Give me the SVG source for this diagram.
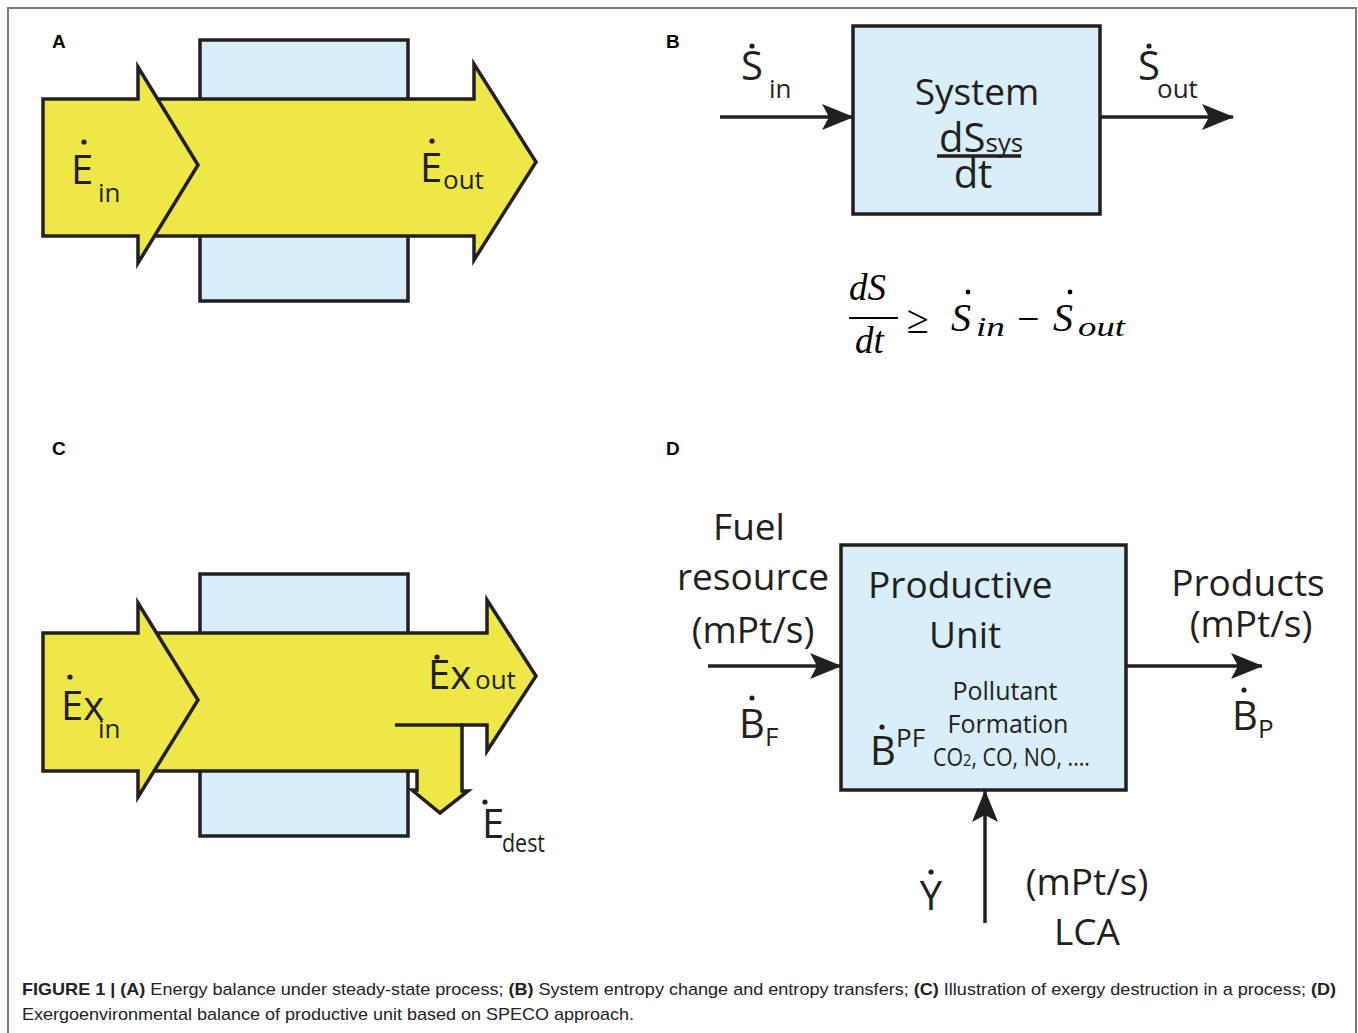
<svg xmlns="http://www.w3.org/2000/svg" width="1358" height="1033" viewBox="0 0 1358 1033">
<defs>
<style>
.bg{fill:#ffffff}
.frame{fill:none;stroke:#7a7a7a;stroke-width:2}
.box{fill:#d8eef8;stroke:#231f20;stroke-width:3.5}
.yel{fill:#ede847;stroke:#231f20;stroke-width:3.5;stroke-linejoin:miter}
.ln{fill:none;stroke:#231f20;stroke-width:3.5}
.conn{fill:none;stroke:#231f20;stroke-width:3.5}
.t{font-family:"Open Sans","Noto Sans",sans-serif;fill:#231f20}
.big{font-size:40px}
.mid{font-size:37px}
.sub{font-size:26px}
.sm{font-size:25px}
.lab{font-family:"Liberation Sans",Arial,sans-serif;font-weight:bold;font-size:19px;fill:#000}
.math{font-family:"Liberation Serif","Times New Roman",serif;font-style:italic;fill:#000}
.mathr{font-family:"Liberation Serif","Times New Roman",serif;fill:#000}
.cap{font-family:"Liberation Sans",Arial,sans-serif;font-size:17px;fill:#222}
.dot{fill:#231f20}
</style>
<marker id="ah" viewBox="0 0 32 28" refX="31" refY="14" markerWidth="32" markerHeight="28" orient="auto" markerUnits="userSpaceOnUse">
<path d="M0,1 L32,14 L0,27 L7,14 z" fill="#231f20"/>
</marker>
</defs>
<rect class="bg" x="0" y="0" width="1358" height="1033"/>
<path class="frame" d="M8,1040 V8 H1356 V1040"/>

<!-- Panel A -->
<g id="panelA">
<text class="lab" x="52" y="48">A</text>
<g id="A-system"><rect class="box" x="200" y="40" width="208" height="261"/></g>
<g id="A-Eout">
<polygon class="yel" points="150,99 474,99 474,64 536,162 474,260 474,236 150,236"/>
<circle class="dot" cx="432" cy="141" r="2.6"/>
<text class="t big" x="420" y="182">E</text>
<text class="t sub" x="443" y="189">out</text>
</g>
<g id="A-Ein">
<polygon class="yel" points="43,99 138,99 138,67 198,165 138,263 138,236 43,236"/>
<circle class="dot" cx="84" cy="142" r="2.6"/>
<text class="t big" x="71" y="184">E</text>
<text class="t sub" x="98" y="202">in</text>
</g>
</g>

<!-- Panel B -->
<g id="panelB">
<text class="lab" x="666" y="48">B</text>
<g id="B-system">
<rect class="box" x="853" y="26" width="247" height="188"/>
<text class="t mid" x="977" y="105" text-anchor="middle">System</text>
<text class="t big" x="939" y="152">dS<tspan class="sub" font-size="26">sys</tspan></text>
<line class="ln" x1="937" y1="156" x2="1021" y2="156" stroke-width="2.5"/>
<text class="t big" x="973" y="188" text-anchor="middle">dt</text>
</g>
<g id="B-Sin">
<circle class="dot" cx="752" cy="46" r="2.6"/>
<text class="t big" x="741" y="80">S</text>
<text class="t sub" x="769" y="98">in</text>
</g>
<g id="B-Sout">
<circle class="dot" cx="1149" cy="46" r="2.6"/>
<text class="t big" x="1138" y="80">S</text>
<text class="t sub" x="1157" y="98">out</text>
</g>
<g id="B-eq">
<text class="math" x="849" y="300" font-size="37">dS</text>
<line x1="849" y1="318" x2="898" y2="318" stroke="#000" stroke-width="2"/>
<text class="math" x="855" y="353" font-size="37">dt</text>
<text class="mathr" x="907" y="333" font-size="40">≥</text>
<circle cx="968" cy="292" r="2.4" fill="#000"/>
<text class="math" x="951" y="331" font-size="40">S</text>
<text class="math" x="976" y="336" font-size="28" textLength="29" lengthAdjust="spacingAndGlyphs">in</text>
<text class="mathr" x="1017" y="332" font-size="40">−</text>
<circle cx="1070" cy="292" r="2.4" fill="#000"/>
<text class="math" x="1053" y="331" font-size="40">S</text>
<text class="math" x="1078" y="336" font-size="28" textLength="47" lengthAdjust="spacingAndGlyphs">out</text>
</g>
</g>

<!-- Panel C -->
<g id="panelC">
<text class="lab" x="52" y="455">C</text>
<g id="C-system"><rect class="box" x="200" y="574" width="208" height="262"/></g>
<g id="C-Exout">
<polygon class="yel" points="150,633 487,633 487,600 536,676 487,751 487,725 462,725 462,791 468,791 440,813 412,790 417,790 417,771 150,771"/>
<line class="ln" x1="395" y1="725" x2="462" y2="725"/>
<circle class="dot" cx="437" cy="657" r="2.6"/>
<text class="t big" x="428" y="689">Ex</text>
<text class="t sub" x="475" y="689">out</text>
</g>
<g id="C-Edest">
<circle class="dot" cx="485" cy="802" r="2.6"/>
<text class="t big" x="482" y="838">E</text>
<text class="t sub" x="502" y="852" textLength="43" lengthAdjust="spacingAndGlyphs">dest</text>
</g>
<g id="C-Exin">
<polygon class="yel" points="43,633 138,633 138,603 198,700 138,797 138,771 43,771"/>
<circle class="dot" cx="70" cy="677" r="2.6"/>
<text class="t big" x="61" y="720">Ex</text>
<text class="t sub" x="98" y="738">in</text>
</g>
</g>

<!-- Panel D -->
<g id="panelD">
<text class="lab" x="666" y="455">D</text>
<g id="D-unit">
<rect class="box" x="841" y="545" width="285" height="245"/>
<text class="t mid" x="868" y="598">Productive</text>
<text class="t mid" x="929" y="648">Unit</text>
<text class="t sm" x="1005" y="700" text-anchor="middle">Pollutant</text>
<text class="t sm" x="1008" y="733" text-anchor="middle">Formation</text>
<text class="t sm" x="933" y="766" textLength="157" lengthAdjust="spacingAndGlyphs">CO<tspan font-size="17">2</tspan>, CO, NO, ....</text>
<circle class="dot" cx="882" cy="727" r="2.6"/>
<text class="t big" x="870" y="765">B</text>
<text class="t sub" x="896" y="747">PF</text>
</g>
<g id="D-fuel">
<text class="t mid" x="749" y="540" text-anchor="middle">Fuel</text>
<text class="t mid" x="753" y="590" text-anchor="middle">resource</text>
<text class="t mid" x="753" y="643" text-anchor="middle">(mPt/s)</text>
<circle class="dot" cx="752" cy="698" r="2.6"/>
<text class="t big" x="739" y="738">B</text>
<text class="t sub" x="765" y="746">F</text>
</g>
<g id="D-products">
<text class="t mid" x="1248" y="596" text-anchor="middle">Products</text>
<text class="t mid" x="1251" y="637" text-anchor="middle">(mPt/s)</text>
<circle class="dot" cx="1244" cy="690" r="2.6"/>
<text class="t big" x="1232" y="730">B</text>
<text class="t sub" x="1258" y="738">P</text>
</g>
<g id="D-lca">
<circle class="dot" cx="931" cy="872" r="2.6"/>
<text class="t big" x="931" y="910" text-anchor="middle">Y</text>
<text class="t mid" x="1087" y="895" text-anchor="middle">(mPt/s)</text>
<text class="t mid" x="1087" y="945" text-anchor="middle">LCA</text>
</g>
</g>

<g id="connectors">
<line class="conn" x1="720" y1="117" x2="853" y2="117" marker-end="url(#ah)"/>
<line class="conn" x1="1100" y1="117" x2="1233" y2="117" marker-end="url(#ah)"/>
<line class="conn" x1="708" y1="666" x2="841" y2="666" marker-end="url(#ah)"/>
<line class="conn" x1="1126" y1="666" x2="1262" y2="666" marker-end="url(#ah)"/>
<line class="conn" x1="985" y1="923" x2="985" y2="791" marker-end="url(#ah)"/>
</g>

<g id="caption">
<text class="cap" x="22" y="995" textLength="1314" lengthAdjust="spacingAndGlyphs"><tspan font-weight="bold">FIGURE 1 | (A)</tspan> Energy balance under steady-state process; <tspan font-weight="bold">(B)</tspan> System entropy change and entropy transfers; <tspan font-weight="bold">(C)</tspan> Illustration of exergy destruction in a process; <tspan font-weight="bold">(D)</tspan></text>
<text class="cap" x="22" y="1020" textLength="612" lengthAdjust="spacingAndGlyphs">Exergoenvironmental balance of productive unit based on SPECO approach.</text>
</g>
</svg>
